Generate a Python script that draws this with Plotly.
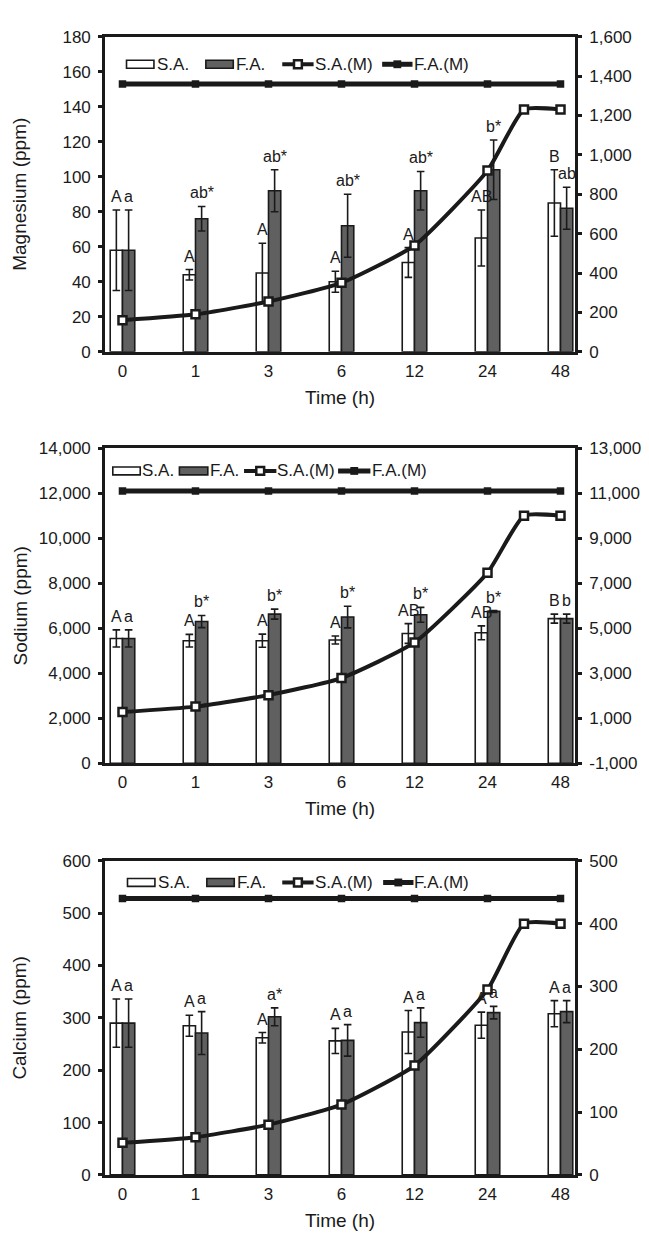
import plotly.graph_objects as go
from plotly.subplots import make_subplots

# ---------------- data ----------------
times = ["0", "1", "3", "6", "12", "24", "48"]
cat_index = [0, 1, 2, 3, 4, 5, 6]
# category positions of the eight S.A.(M) points (one extra point between 24 and 48)
sam_pos = [0, 1, 2, 3, 4, 5, 5.5, 6]

mg_sa = [58, 44, 45, 40, 51, 65, 85]
mg_sa_err = [23, 3, 17, 6, 8.5, 16, 19]
mg_fa = [58, 76, 92, 72, 92, 104, 82]
mg_fa_err = [23, 7, 12, 18, 11, 17, 12]
mg_sam = [160, 190, 255, 350, 540, 920, 1230, 1230]
mg_fam = [1360, 1360, 1360, 1360, 1360, 1360, 1360]
mg_sa_lab = ["A", "A", "A", "A", "A", "AB", "B"]
mg_fa_lab = ["a", "ab*", "ab*", "ab*", "ab*", "b*", "ab"]
mg_left_ticks = [0, 20, 40, 60, 80, 100, 120, 140, 160, 180]
mg_right_ticks = [0, 200, 400, 600, 800, 1000, 1200, 1400, 1600]

na_sa = [5550, 5450, 5450, 5480, 5770, 5800, 6430]
na_sa_err = [380, 280, 290, 180, 440, 310, 200]
na_fa = [5550, 6300, 6630, 6500, 6600, 6750, 6430]
na_fa_err = [380, 270, 220, 480, 330, 40, 200]
na_sam = [1280, 1520, 2030, 2790, 4370, 7470, 10000, 10000]
na_fam = [11100, 11100, 11100, 11100, 11100, 11100, 11100]
na_sa_lab = ["A", "A", "A", "A", "AB", "AB", "B"]
na_fa_lab = ["a", "b*", "b*", "b*", "b*", "b*", "b"]
na_left_ticks = [0, 2000, 4000, 6000, 8000, 10000, 12000, 14000]
na_right_ticks = [-1000, 1000, 3000, 5000, 7000, 9000, 11000, 13000]

ca_sa = [290, 285, 262, 256, 273, 286, 308]
ca_sa_err = [46, 20, 10, 24, 41, 25, 25]
ca_fa = [290, 271, 302, 257, 291, 310, 312]
ca_fa_err = [46, 41, 17, 30, 28, 12, 21]
ca_sam = [51, 60, 80, 112, 174, 295, 400, 400]
ca_fam = [440, 440, 440, 440, 440, 440, 440]
ca_sa_lab = ["A", "A", "A", "A", "A", "A", "A"]
ca_fa_lab = ["a", "a", "a*", "a", "a", "a", "a"]
ca_left_ticks = [0, 100, 200, 300, 400, 500, 600]
ca_right_ticks = [0, 100, 200, 300, 400, 500]

series_names = ["S.A.", "F.A.", "S.A.(M)", "F.A.(M)"]

panels = [
    dict(name="Magnesium (ppm)", sa=mg_sa, sae=mg_sa_err, fa=mg_fa, fae=mg_fa_err,
         sam=mg_sam, fam=mg_fam, sal=mg_sa_lab, fal=mg_fa_lab,
         lt=mg_left_ticks, rt=mg_right_ticks),
    dict(name="Sodium (ppm)", sa=na_sa, sae=na_sa_err, fa=na_fa, fae=na_fa_err,
         sam=na_sam, fam=na_fam, sal=na_sa_lab, fal=na_fa_lab,
         lt=na_left_ticks, rt=na_right_ticks),
    dict(name="Calcium (ppm)", sa=ca_sa, sae=ca_sa_err, fa=ca_fa, fae=ca_fa_err,
         sam=ca_sam, fam=ca_fam, sal=ca_sa_lab, fal=ca_fa_lab,
         lt=ca_left_ticks, rt=ca_right_ticks),
]

# ---------------- layout geometry (page pixels) ----------------
OFF = 8                      # default page margin around the figure
W, H = 649 - 2 * OFF, 1251 - 2 * OFF


def px(x):
    return (x - OFF) / W


def py(y):
    return 1 - (y - OFF) / H


PX_L, PX_R = 107, 587
panel_px = [(28, 348), (446, 766), (865, 1184)]   # top, bottom of each plot area
ytitle_standoff = [31, 7, 31]
# legend geometry per panel: y centre, swatch spans, text starts
legend_geo = [
    dict(y=56, sw=[(129, 157), (210, 238), (288, 320), (390, 421)], tx=[160, 241, 321, 423]),
    dict(y=469, sw=[(115, 143), (183, 212), (249, 282), (345, 378)], tx=[145, 214, 283, 380]),
    dict(y=887, sw=[(130, 158), (211, 239), (288, 320), (391, 422)], tx=[161, 242, 321, 423]),
]

FONT = "Liberation Sans, Arial, sans-serif"
INK = "#1a1a1a"
GRAY = "#606060"
BAR_GAP = 0.664
half = (1 - BAR_GAP) / 4

fig = make_subplots(rows=3, cols=1, specs=[[{"secondary_y": True}]] * 3)

annotations = []
shapes = []
for k, p in enumerate(panels):
    row = k + 1
    fig.add_trace(go.Bar(
        x=cat_index, y=p["sa"], name=series_names[0], showlegend=False,
        marker=dict(color="white", line=dict(color=INK, width=1.6)),
        error_y=dict(type="data", array=p["sae"], color=INK, thickness=1.6, width=3.8),
    ), row=row, col=1, secondary_y=False)
    fig.add_trace(go.Bar(
        x=cat_index, y=p["fa"], name=series_names[1], showlegend=False,
        marker=dict(color=GRAY, line=dict(color=INK, width=1.6)),
        error_y=dict(type="data", array=p["fae"], color=INK, thickness=1.6, width=3.8),
    ), row=row, col=1, secondary_y=False)
    fig.add_trace(go.Scatter(
        x=sam_pos, y=p["sam"], name=series_names[2], showlegend=False, mode="lines+markers",
        line=dict(color=INK, width=4, shape="spline", smoothing=0.5),
        marker=dict(symbol="square", size=8, color="white", line=dict(color=INK, width=2.5)),
    ), row=row, col=1, secondary_y=True)
    fig.add_trace(go.Scatter(
        x=cat_index, y=p["fam"], name=series_names[3], showlegend=False, mode="lines+markers",
        line=dict(color=INK, width=5),
        marker=dict(symbol="square", size=7.5, color=INK),
    ), row=row, col=1, secondary_y=True)

    top, bot = panel_px[k]
    ydom = [py(bot), py(top)]
    xdom = [px(PX_L), px(PX_R)]
    xa = "xaxis" if k == 0 else f"xaxis{k + 1}"
    ya = "yaxis" if k == 0 else f"yaxis{2 * k + 1}"
    ya2 = f"yaxis{2 * k + 2}"
    xref = "x" if k == 0 else f"x{k + 1}"
    yref = "y" if k == 0 else f"y{2 * k + 1}"

    fig.layout[xa].update(
        domain=xdom, range=[-0.24, 6.2], tickmode="array", tickvals=cat_index, ticktext=times,
        showline=True, linecolor=INK, linewidth=2.5, mirror=True, ticks="",
        showgrid=False, zeroline=False, ticklabelstandoff=2,
        tickfont=dict(family=FONT, size=17, color=INK),
        title=dict(text="Time (h)", font=dict(family=FONT, size=19, color=INK), standoff=11),
    )
    fig.layout[ya].update(
        domain=ydom, range=[p["lt"][0], p["lt"][-1]], tickmode="array", tickvals=p["lt"],
        ticktext=[f"{v:,}" for v in p["lt"]],
        showline=True, linecolor=INK, linewidth=2.5, ticks="outside", ticklen=4,
        tickwidth=3, tickcolor=INK, showgrid=False, zeroline=False, ticklabelstandoff=4,
        tickfont=dict(family=FONT, size=17, color=INK),
        title=dict(text=p["name"], font=dict(family=FONT, size=19, color=INK),
                   standoff=ytitle_standoff[k]),
    )
    fig.layout[ya2].update(
        range=[p["rt"][0], p["rt"][-1]], tickmode="array", tickvals=p["rt"],
        ticktext=[f"{v:,}" for v in p["rt"]],
        showline=True, linecolor=INK, linewidth=2.5, ticks="outside", ticklen=4,
        tickwidth=3, tickcolor=INK, showgrid=False, zeroline=False, ticklabelstandoff=4,
        tickfont=dict(family=FONT, size=17, color=INK),
    )

    # significance letters above each bar's error bar
    for i in cat_index:
        for lab, val, err, off in ((p["sal"][i], p["sa"][i], p["sae"][i], -half),
                                   (p["fal"][i], p["fa"][i], p["fae"][i], half)):
            if lab:
                annotations.append(dict(
                    x=i + off, y=val + err, xref=xref, yref=yref, text=lab,
                    showarrow=False, yanchor="bottom", yshift=3,
                    font=dict(family=FONT, size=16, color=INK),
                ))

    # legend (drawn in page pixels)
    g = legend_geo[k]
    yc = g["y"]
    (a0, a1), (b0, b1), (c0, c1), (d0, d1) = g["sw"]
    shapes.append(dict(type="rect", xref="paper", yref="paper", x0=px(a0), x1=px(a1),
                       y0=py(yc + 4), y1=py(yc - 4), fillcolor="white",
                       line=dict(color=INK, width=1.6)))
    shapes.append(dict(type="rect", xref="paper", yref="paper", x0=px(b0), x1=px(b1),
                       y0=py(yc + 4), y1=py(yc - 4), fillcolor=GRAY,
                       line=dict(color=INK, width=1.6)))
    shapes.append(dict(type="line", xref="paper", yref="paper", x0=px(c0), x1=px(c1),
                       y0=py(yc), y1=py(yc), line=dict(color=INK, width=4)))
    cm = (c0 + c1) / 2
    shapes.append(dict(type="rect", xref="paper", yref="paper", x0=px(cm - 4), x1=px(cm + 4),
                       y0=py(yc + 4), y1=py(yc - 4), fillcolor="white",
                       line=dict(color=INK, width=2.5)))
    shapes.append(dict(type="line", xref="paper", yref="paper", x0=px(d0), x1=px(d1),
                       y0=py(yc), y1=py(yc), line=dict(color=INK, width=5)))
    dm = (d0 + d1) / 2
    shapes.append(dict(type="rect", xref="paper", yref="paper", x0=px(dm - 4), x1=px(dm + 4),
                       y0=py(yc + 4), y1=py(yc - 4), fillcolor=INK,
                       line=dict(color=INK, width=0)))
    for name, tx in zip(series_names, g["tx"]):
        annotations.append(dict(
            x=px(tx), y=py(yc), xref="paper", yref="paper", text=name, showarrow=False,
            xanchor="left", yanchor="middle", xshift=-2,
            font=dict(family=FONT, size=17, color=INK),
        ))

fig.update_layout(
    width=W, height=H, margin=dict(l=0, r=0, t=0, b=0),
    paper_bgcolor="white", plot_bgcolor="white",
    barmode="group", bargap=BAR_GAP, bargroupgap=0,
    annotations=annotations, shapes=shapes,
    font=dict(family=FONT, color=INK),
)

fig.write_html("out.html")
